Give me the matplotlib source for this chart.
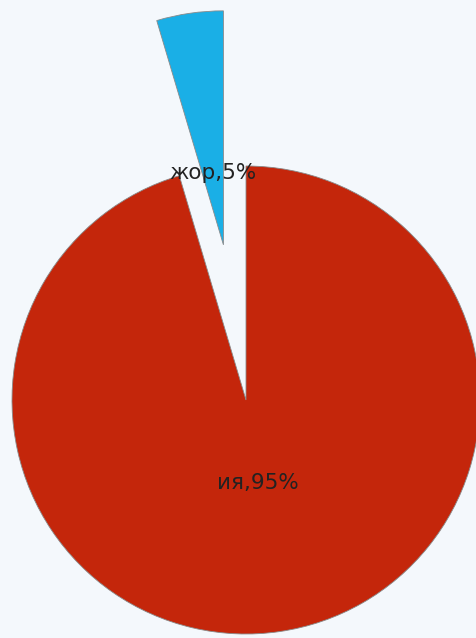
import numpy as np
import matplotlib
matplotlib.use("Agg")
import matplotlib.pyplot as plt

# data (the small slice measures a bit under 5%)
names = ["жор", "ия"]
shares = [4.6, 95.4]
colors = ["#1AAFE6", "#C4260B"]
explode = [0.67, 0.0]
label_dist = [0.31, 0.36]

plt.rcParams['font.family'] = ['DejaVu Sans']

fig = plt.figure(figsize=(4.77, 6.38), dpi=100)
fig.patch.set_facecolor("#F4F8FC")
ax = fig.add_axes([0, 0, 1, 1])
ax.set_facecolor("#F4F8FC")

wedges, texts = ax.pie(shares, colors=colors, explode=explode, startangle=90,
                       counterclock=True, radius=1.0,
                       labels=["%s,%.0f%%" % (n, s) for n, s in zip(names, shares)],
                       labeldistance=0.33,
                       wedgeprops=dict(edgecolor="#8a8a8a", linewidth=0.6),
                       textprops=dict(fontsize=15.5, color="#222222"))

# move each label along its own wedge bisector
for w, t, d in zip(wedges, texts, label_dist):
    th = np.deg2rad((w.theta1 + w.theta2) / 2)
    cx, cy = w.center
    t.set_position((cx + d * np.cos(th), cy + d * np.sin(th)))
    t.set_ha("center")
    t.set_va("center")

r_px = 234.0
cx_px, cy_px = 246.0, 400.0
ax.set_xlim(-cx_px / r_px, (477 - cx_px) / r_px)
ax.set_ylim(-(638 - cy_px) / r_px, cy_px / r_px)
ax.set_aspect("auto")
ax.axis("off")

fig.savefig("out.png", dpi=100, facecolor=fig.get_facecolor())
